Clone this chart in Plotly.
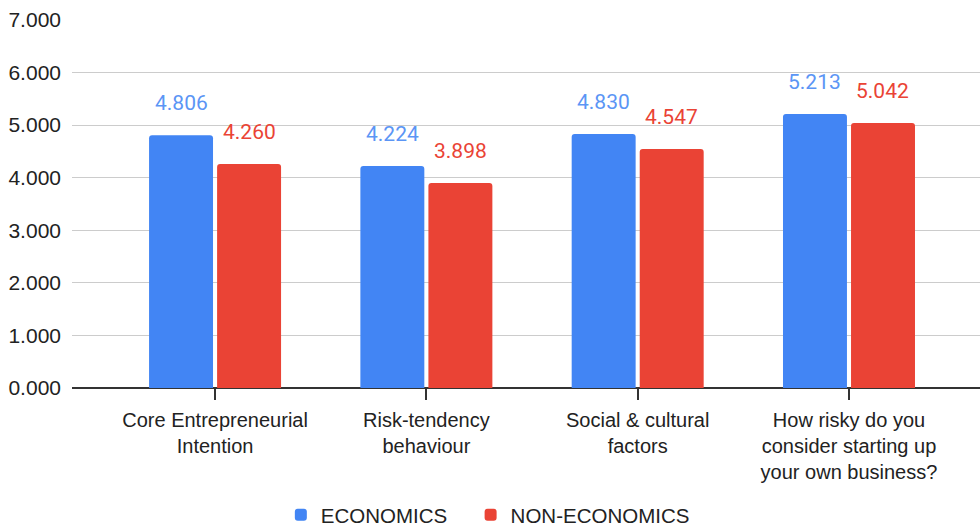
import plotly.graph_objects as go

categories = [
    "Core Entrepreneurial<br>Intention",
    "Risk-tendency<br>behaviour",
    "Social & cultural<br>factors",
    "How risky do you<br>consider starting up<br>your own business?",
]
economics = [4.806, 4.224, 4.830, 5.213]
non_economics = [4.260, 3.898, 4.547, 5.042]
series_names = ["ECONOMICS", "NON-ECONOMICS"]
colors = ["#4285F4", "#EA4335"]
label_colors = ["#5B95F5", "#EA4335"]
y_ticks = [0, 1, 2, 3, 4, 5, 6, 7]

AX_FONT = "Liberation Sans, Arial, sans-serif"
LBL_FONT = "Roboto, sans-serif"

fig = go.Figure()
for name, vals, col, lg in zip(series_names, [economics, non_economics], colors, ["legend", "legend2"]):
    fig.add_trace(go.Bar(
        x=categories, y=vals, name=name, legend=lg,
        marker=dict(color=col, line=dict(width=0), cornerradius=3),
    ))

for vals, lc, shift in zip([economics, non_economics], label_colors, [-34, 34]):
    for c, v in zip(categories, vals):
        fig.add_annotation(
            x=c, y=v, text=f"{v:.3f}", showarrow=False,
            xshift=shift, yshift=18, yanchor="bottom",
            font=dict(family=LBL_FONT, size=21, color=lc),
        )

legend_common = dict(
    orientation="h", xanchor="left",
    yref="container", y=0.023, yanchor="middle",
    font=dict(family=AX_FONT, size=20.5, color="#222222"),
    itemsizing="constant", bgcolor="rgba(0,0,0,0)",
)

fig.update_layout(
    width=980, height=527,
    margin=dict(l=72, r=0, t=20, b=139, autoexpand=False),
    paper_bgcolor="white", plot_bgcolor="white",
    barmode="group", bargap=0.356, bargroupgap=0.06,
    font=dict(family=AX_FONT, size=21, color="#222222"),
    showlegend=True,
    legend=dict(x=0.230, **legend_common),
    legend2=dict(x=0.439, **legend_common),
    xaxis=dict(
        type="category", range=[-0.677, 3.62],
        showgrid=False, showline=False, zeroline=False,
        ticks="outside", ticklen=11, tickwidth=1.5, tickcolor="#333333",
        ticklabelstandoff=3,
        tickfont=dict(family=AX_FONT, size=20, color="#222222"),
    ),
    yaxis=dict(
        range=[0, 7], tickvals=y_ticks, tickformat=".3f",
        showgrid=True, gridcolor="#CCCCCC", gridwidth=1,
        zeroline=True, zerolinecolor="#333333", zerolinewidth=2,
        showline=False, ticks="", ticklabelstandoff=10,
        tickfont=dict(family=AX_FONT, size=21, color="#222222"),
    ),
)

fig.write_html("out.html")
